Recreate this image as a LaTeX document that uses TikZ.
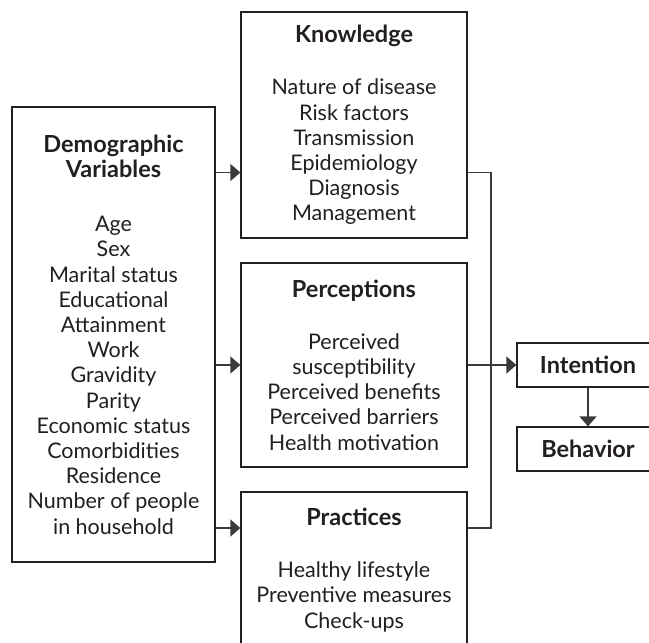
\documentclass[tikz,border=0pt]{standalone}
\usepackage{fontspec}
\setmainfont{Lato}
\usetikzlibrary{arrows.meta}
\usepackage{xcolor}
\definecolor{ink}{HTML}{231F20}
\definecolor{wire}{HTML}{3A3A3A}
\newcommand{\hd}[1]{{\bfseries\fontsize{23.5}{25.2}\selectfont #1}}

\begin{document}
\begin{tikzpicture}[x=1pt,y=-1pt]
\tikzstyle{block} = [rectangle, draw=ink, line width=1.3pt, text=ink,
align=center, inner sep=0pt, font=\fontsize{21.5}{25.2}\selectfont]
\tikzstyle{small} = [block, minimum width=142pt, minimum height=44pt]
\tikzstyle{line} = [draw=wire, line width=1.3pt, -{Triangle[length=10pt,width=17pt]}];
\useasboundingbox (0,0) rectangle (649,643);

% left column
\node [block, minimum width=203pt, minimum height=455pt] (demo) at (113.5,334.5)
{\hd{Demographic}\\\hd{Variables}\\[29pt]
Age\\Sex\\Marital status\\Educational\\Attainment\\Work\\Gravidity\\Parity\\
Economic status\\Comorbidities\\Residence\\Number of people\\in household};

% middle column
\node [block, minimum width=226pt, minimum height=226pt] (know) at (354,125)
{\hd{Knowledge}\\[27pt]
Nature of disease\\Risk factors\\Transmission\\Epidemiology\\Diagnosis\\Management};
\node [block, minimum width=226pt, minimum height=204pt] (perc) at (354,365)
{\hd{Perceptions}\\[27pt]
Perceived\\susceptibility\\Perceived benefits\\Perceived barriers\\Health motivation};
\node [block, minimum width=226pt, minimum height=156pt] (prac) at (354,570)
{\hd{Practices}\\[27pt]
Healthy lifestyle\\Preventive measures\\Check-ups};

% right column
\node [small] (int) at (588,365) {\hd{Intention}};
\node [small] (beh) at (588,449) {\hd{Behavior}};

% rows of the arrows and the joining bar
\coordinate (rowK) at (0,172.5);
\coordinate (rowP) at (0,528);
\coordinate (bus) at (491,0);

\path [line] (demo.east |- rowK) -- (know.west |- rowK);
\path [line] (demo.east |- perc) -- (perc.west);
\path [line] (demo.east |- rowP) -- (prac.west |- rowP);
\draw [wire, line width=1.3pt] (know.east |- rowK) -- (bus |- rowK)
  -- (bus |- rowP) -- (prac.east |- rowP);
\path [line] (perc.east) -- (int.west);
\path [line] (int) -- (beh);

\end{tikzpicture}
\end{document}
